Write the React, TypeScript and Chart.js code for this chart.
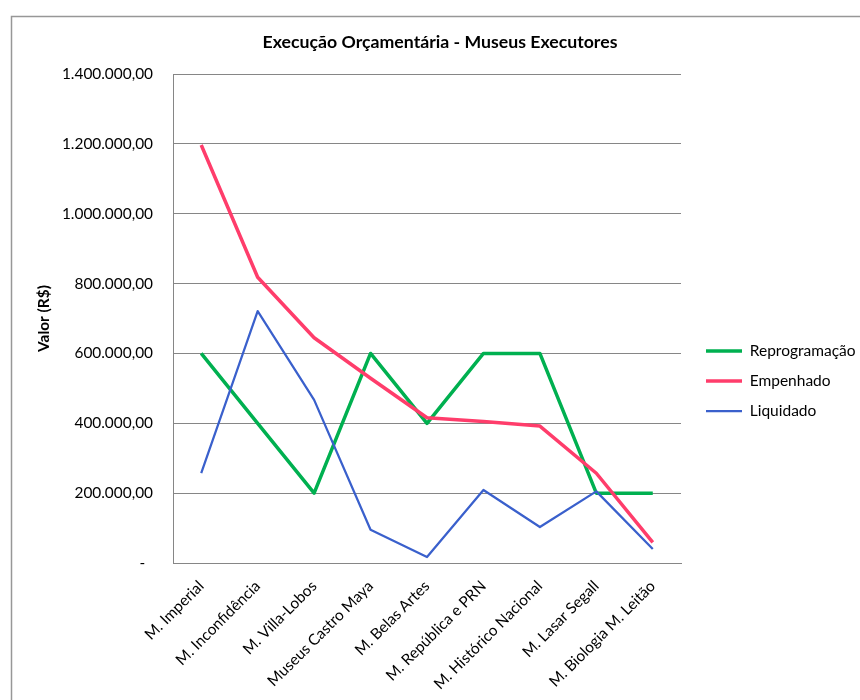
import React, { useEffect, useRef } from "react";
import { Chart, registerables } from "chart.js";

Chart.register(...registerables);

const categories = [
  "M. Imperial",
  "M. Inconfidência",
  "M. Villa-Lobos",
  "Museus Castro Maya",
  "M. Belas Artes",
  "M. República e PRN",
  "M. Histórico Nacional",
  "M. Lasar Segall",
  "M. Biologia M. Leitão",
];

const reprogramacao = [600000, 400000, 200000, 600000, 400000, 600000, 600000, 200000, 200000];
const empenhado = [1197000, 818000, 645000, 529000, 416000, 405000, 392000, 257000, 59000];
const liquidado = [257000, 721000, 467000, 95000, 17000, 209000, 103000, 205000, 40000];

const yTicks = [0, 200000, 400000, 600000, 800000, 1000000, 1200000, 1400000];

const seriesNames = ["Reprogramação", "Empenhado", "Liquidado"];
const chartTitle = "Execução Orçamentária - Museus Executores";
const yTitle = "Valor (R$)";

function formatBR(v: number): string {
  if (v === 0) return "-  ";
  const s = Math.round(v)
    .toString()
    .replace(/\B(?=(\d{3})+(?!\d))/g, ".");
  return s + ",00";
}

const FONT = "Lato, 'Open Sans', sans-serif";

const frame = {
  id: "frame",
  beforeDraw(chart: any) {
    const ctx = chart.ctx;
    ctx.save();
    ctx.fillStyle = "#ffffff";
    ctx.fillRect(0, 0, chart.width, chart.height);
    ctx.strokeStyle = "#979797";
    ctx.lineWidth = 1.5;
    ctx.beginPath();
    ctx.moveTo(11.5, chart.height + 2);
    ctx.lineTo(11.5, 16.5);
    ctx.lineTo(chart.width + 2, 16.5);
    ctx.stroke();
    ctx.restore();
  },
};

const LEG_PAD = 14.5;
const LEG_FONT = 15.5;

const legendFix = {
  id: "legendFix",
  beforeLayout(chart: any) {
    const lg = chart.legend;
    if (lg && !lg.__patched) {
      const orig = lg.fit.bind(lg);
      lg.fit = function () {
        orig();
        this.width = 169;
      };
      lg.__patched = true;
    }
  },
  afterLayout(chart: any) {
    const lg = chart.legend;
    if (!lg) return;
    const dx = 706 - LEG_PAD - lg.left;
    lg.left += dx;
    lg.right += dx;
    const h = lg.bottom - lg.top;
    lg.top = 351 - LEG_PAD - LEG_FONT / 2;
    lg.bottom = lg.top + h;
  },
};

export default function App() {
  const ref = useRef<HTMLCanvasElement | null>(null);

  useEffect(() => {
    if (!ref.current) return;
    const chart = new Chart(ref.current, {
      type: "line",
      data: {
        labels: categories,
        datasets: [
          {
            label: seriesNames[0],
            data: reprogramacao,
            borderColor: "#00B050",
            backgroundColor: "#00B050",
            borderWidth: 3.5,
            order: 3,
          },
          {
            label: seriesNames[1],
            data: empenhado,
            borderColor: "#FF3D6B",
            backgroundColor: "#FF3D6B",
            borderWidth: 3.5,
            order: 2,
          },
          {
            label: seriesNames[2],
            data: liquidado,
            borderColor: "#3A60CC",
            backgroundColor: "#3A60CC",
            borderWidth: 2.25,
            order: 1,
          },
        ],
      },
      options: {
        responsive: false,
        animation: false,
        layout: { padding: { left: 30, right: 10, top: 20, bottom: 0 } },
        elements: {
          point: { radius: 0, hoverRadius: 0 },
          line: { tension: 0, fill: false, borderJoinStyle: "round" },
        },
        plugins: {
          title: {
            display: true,
            text: chartTitle,
            color: "#000",
            font: { family: FONT, size: 17.7, weight: "bold" },
            padding: { top: 11.4, bottom: 21.4 },
          },
          legend: {
            position: "right",
            align: "start",
            labels: {
              usePointStyle: true,
              pointStyle: "line",
              pointStyleWidth: 36,
              color: "#000",
              font: { family: FONT, size: LEG_FONT },
              padding: LEG_PAD,
              sort: (a: any, b: any) => a.datasetIndex - b.datasetIndex,
            },
          },
          tooltip: { enabled: false },
        },
        scales: {
          x: {
            offset: true,
            grid: { display: false, drawTicks: false },
            border: { display: true, color: "#868686", width: 1 },
            ticks: {
              color: "#000",
              font: { family: FONT, size: 15.4 },
              maxRotation: 45,
              minRotation: 45,
              padding: 14,
              autoSkip: false,
            },
            afterFit: (s: any) => {
              s.height = 137;
            },
          },
          y: {
            min: 0,
            max: 1400000,
            afterBuildTicks: (s: any) => {
              s.ticks = yTicks.map((v) => ({ value: v }));
            },
            grid: { color: "#868686", drawTicks: false, lineWidth: 1 },
            border: { display: true, color: "#868686", width: 1 },
            ticks: {
              color: "#000",
              font: { family: FONT, size: 15.4 },
              padding: 20,
              callback: (v: any) => formatBR(Number(v)),
            },
            title: {
              display: true,
              text: yTitle,
              color: "#000",
              font: { family: FONT, size: 15.4, weight: "bold" },
              padding: { top: 4.8, bottom: 0 },
            },
            afterFit: (s: any) => {
              s.width = 143;
            },
          },
        },
      },
      plugins: [frame, legendFix],
    });
    return () => chart.destroy();
  }, []);

  return (
    <div style={{ position: "absolute", left: 0, top: 0, width: 860, height: 700, overflow: "hidden" }}>
      <canvas ref={ref} width={860} height={700} style={{ display: "block" }} />
    </div>
  );
}
